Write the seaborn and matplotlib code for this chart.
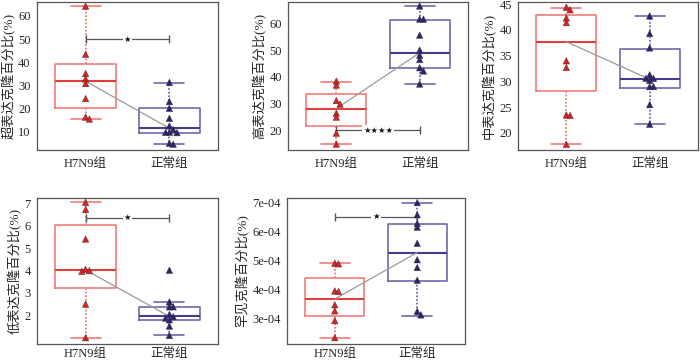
import numpy as np
import pandas as pd
import matplotlib
matplotlib.use("Agg")
import matplotlib.pyplot as plt
import seaborn as sns
from matplotlib.ticker import FuncFormatter

# ================= DATA =================
groups = ["H7N9组", "正常组"]

# box stats: [whisker low, Q1, median, Q3, whisker high]
super_h7n9 = [64.2, 43.4, 35.1, 32.8, 30.8, 24.3, 16.3, 15.5]
super_normal = [31.3, 23.0, 20.1, 15.8, 12.5, 11.0, 9.8, 9.7, 9.6, 5.0, 4.6]
super_box = [[15.4, 20.1, 31.8, 39.1, 64.2], [4.5, 9.3, 11.5, 20.1, 31.2]]

high_h7n9 = [38.4, 36.9, 31.1, 29.8, 26.4, 24.9, 18.9, 14.8]
high_normal = [66.5, 61.6, 61.6, 55.6, 50.0, 48.1, 46.5, 43.4, 42.2, 37.3]
high_box = [[14.8, 21.7, 28.1, 33.7, 38.1], [37.3, 43.4, 49.0, 61.2, 66.5]]

mid_h7n9 = [44.4, 43.9, 42.3, 41.4, 34.0, 32.7, 23.5, 23.4, 17.8]
mid_normal = [42.7, 39.3, 36.5, 31.3, 30.6, 30.6, 30.2, 29.0, 29.0, 25.5, 21.7]
mid_box = [[17.9, 28.1, 37.7, 42.8, 44.3], [21.7, 28.7, 30.4, 36.3, 42.7]]

low_h7n9 = [7.04, 6.72, 5.40, 4.05, 3.99, 3.96, 2.50, 1.00]
low_normal = [4.01, 2.60, 2.38, 2.38, 2.04, 1.94, 1.88, 1.80, 1.52, 1.10]
low_box = [[1.0, 3.2, 4.02, 6.03, 7.04], [1.1, 1.78, 1.95, 2.37, 2.6]]

rare_h7n9 = [4.90, 4.88, 3.94, 3.92, 3.46, 3.25, 2.91, 2.32]
rare_normal = [7.00, 6.58, 6.28, 6.15, 5.59, 5.02, 4.75, 4.31, 3.23, 3.11]
rare_box = [[2.32, 3.06, 3.66, 4.39, 4.90], [3.08, 4.30, 5.27, 6.26, 7.00]]
rare_scale = 1e-4

ylabels = ["超表达克隆百分比(%)", "高表达克隆百分比(%)", "中表达克隆百分比(%)",
           "低表达克隆百分比(%)", "罕见克隆百分比(%)"]
sig_y = [50, 20, None, 6.35, 6.51e-4]
sig_text = ["★", "★★★★", "", "★", "★"]

# ================= STYLE =================
sns.set_style("white")
plt.rcParams["font.family"] = ["Liberation Serif", "Noto Sans CJK SC"]

RED_BOX, RED_MED, RED_PT = "#f27a78", "#e23f3a", "#dc2020"
NAV_BOX, NAV_MED, NAV_PT = "#7465ab", "#473a8c", "#2a2370"
FRAME = "#555555"

panels = [
    (super_h7n9, super_normal, super_box, 1, (2.1, 66), np.arange(10, 61, 10)),
    (high_h7n9, high_normal, high_box, 1, (12.6, 68), np.arange(20, 61, 10)),
    (mid_h7n9, mid_normal, mid_box, 1, (16.7, 45.4), np.arange(20, 46, 5)),
    (low_h7n9, low_normal, low_box, 1, (0.72, 7.23), np.arange(2, 8, 1)),
    (rare_h7n9, rare_normal, rare_box, rare_scale, (2.1e-4, 7.16e-4), np.arange(3, 8, 1) * rare_scale),
]

W, H = 700, 363
rects_px = [(37, 2, 181, 148), (288, 2, 180, 148), (518, 2, 180, 148),
            (37, 198, 181, 146), (287, 198, 178, 146)]
xpads = [6, 6, 6, 3, 3]

fig = plt.figure(figsize=(7, 3.63), dpi=100)


def nudge(values, span):
    # small side-by-side shift for triangles that would overlap
    placed = []
    offs = []
    for v in values:
        for o in [0, 0.045, -0.045, 0.09]:
            if not any(abs(v - pv) < 0.025 * span and po == o for pv, po in placed):
                break
        placed.append((v, o))
        offs.append(o)
    return offs


for i, (h7, nm, box, scale, ylim, yt) in enumerate(panels):
    x0, y0, w, h = rects_px[i]
    ax = fig.add_axes([x0 / W, 1 - (y0 + h) / H, w / W, h / H])

    stats = []
    for k, b in enumerate(box):
        b = np.array(b) * scale
        stats.append(dict(whislo=b[0], q1=b[1], med=b[2], q3=b[3], whishi=b[4],
                          fliers=[], label=groups[k]))
    for k, (bc, mc) in enumerate([(RED_BOX, RED_MED), (NAV_BOX, NAV_MED)]):
        ax.bxp([stats[k]], positions=[k], widths=0.72, showfliers=False,
               patch_artist=False, manage_ticks=False,
               boxprops=dict(color=bc, lw=1.2),
               medianprops=dict(color=mc, lw=1.5),
               whiskerprops=dict(color=bc, lw=1.3, linestyle=(0, (1, 1))),
               capprops=dict(color=bc, lw=1.2), capwidths=0.36)

    # median link
    med_df = pd.DataFrame({"x": [0, 1], "y": [stats[0]["med"], stats[1]["med"]]})
    sns.lineplot(data=med_df, x="x", y="y", ax=ax, color="#9a9a9a", lw=0.9,
                 zorder=3)

    span = ylim[1] - ylim[0]
    rows = []
    for k, vals in enumerate([h7, nm]):
        vals = [v * scale for v in vals]
        for v, o in zip(vals, nudge(vals, span)):
            rows.append({"x": k + o, "y": v, "g": groups[k]})
    pts = pd.DataFrame(rows)
    sns.scatterplot(data=pts, x="x", y="y", hue="g", palette=[RED_PT, NAV_PT],
                    marker="^", s=22, linewidth=0.3, edgecolor="#333333",
                    legend=False, ax=ax, zorder=4)

    # significance bracket
    if sig_y[i] is not None:
        ax.plot([0, 1], [sig_y[i], sig_y[i]], color="#555555", lw=0.9,
                marker="|", markersize=6, zorder=2)
        ax.text(0.5, sig_y[i], sig_text[i], ha="center", va="center",
                fontsize=6, family=["DejaVu Sans"], color="#111111",
                bbox=dict(facecolor="white", edgecolor="none", pad=0.6),
                zorder=5)

    ax.set_xlim(-0.58, 1.58)
    ax.set_ylim(*ylim)
    ax.set_xticks([0, 1])
    ax.set_xticklabels(groups, fontsize=9)
    ax.set_yticks(yt)
    if scale != 1:
        ax.yaxis.set_major_formatter(FuncFormatter(lambda v, p: f"{v:.0e}"))
    ax.tick_params(axis="y", direction="out", length=3, width=0.8,
                   color=FRAME, labelsize=9, pad=1.5)
    ax.tick_params(axis="x", direction="in", length=4, width=0.8,
                   color=FRAME, labelsize=9, pad=xpads[i])
    ax.set_xlabel("")
    ax.set_ylabel(ylabels[i], fontsize=9.5, labelpad=2)
    for sp in ax.spines.values():
        sp.set_color(FRAME)
        sp.set_linewidth(0.9)
        sp.set_visible(True)

fig.savefig("out.png", dpi=100)
